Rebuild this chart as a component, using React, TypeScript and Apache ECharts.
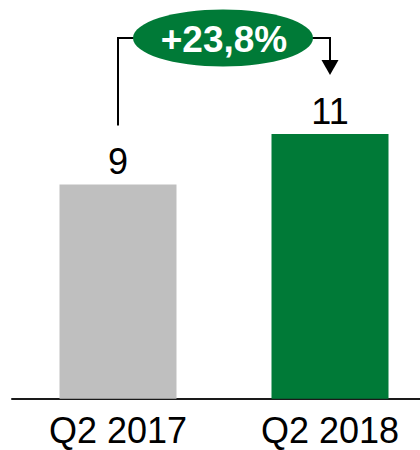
import React, { useEffect, useRef } from "react";
import * as echarts from "echarts";

const categories = ["Q2 2017", "Q2 2018"];
const values = [8.9, 11.0];
const valueLabels = ["9", "11"];
const barColors = ["#BFBFBF", "#007A37"];
const growthLabel = "+23,8%";

const FONT = "'Liberation Sans', Arial, Helvetica, sans-serif";

export default function App() {
  const ref = useRef<HTMLDivElement>(null);
  useEffect(() => {
    if (!ref.current) return;
    const chart = echarts.init(ref.current, null, { renderer: "svg" });
    const option: any = {
      animation: false,
      backgroundColor: "#ffffff",
      grid: { left: 12, right: 0, top: 13.7, bottom: 51.3, containLabel: false },
      xAxis: {
        type: "category",
        data: categories,
        axisLine: { show: true, lineStyle: { color: "#1a1a1a", width: 2 } },
        axisTick: { show: false },
        axisLabel: { color: "#000", fontSize: 36, fontFamily: FONT, margin: 14 },
      },
      yAxis: {
        type: "value",
        min: 0,
        max: 16,
        show: false,
        splitLine: { show: false },
      },
      series: [
        {
          type: "bar",
          barWidth: 117,
          data: values.map((v, i) => ({ value: v, itemStyle: { color: barColors[i] } })),
          label: {
            show: true,
            position: "top",
            distance: 5,
            color: "#000",
            fontSize: 36,
            fontFamily: FONT,
            formatter: (p: any) => valueLabels[p.dataIndex],
          },
        },
      ],
    };
    chart.setOption(option);

    const x0 = chart.convertToPixel({ xAxisIndex: 0 }, categories[0]) as number;
    const x1 = chart.convertToPixel({ xAxisIndex: 0 }, categories[1]) as number;
    const y0 = chart.convertToPixel({ yAxisIndex: 0 }, values[0]) as number;
    const lineY = 38;
    const cx = 223;
    const cy = 38;
    const rx = 90;
    const ry = 28.5;
    const lineStyle = { stroke: "#000", lineWidth: 2, fill: null };
    chart.setOption({
      graphic: [
        {
          type: "polyline",
          shape: { points: [[x0, y0 - 59], [x0, lineY], [cx - rx + 4, lineY]] },
          style: lineStyle,
          z: 10,
        },
        {
          type: "polyline",
          shape: { points: [[cx + rx - 4, lineY], [x1, lineY], [x1, 62]] },
          style: lineStyle,
          z: 10,
        },
        {
          type: "polygon",
          shape: { points: [[x1 - 8.5, 60], [x1 + 8.5, 60], [x1, 75]] },
          style: { fill: "#000" },
          z: 10,
        },
        {
          type: "ellipse",
          shape: { cx, cy, rx, ry },
          style: { fill: "#007A37" },
          z: 11,
        },
        {
          type: "text",
          x: cx + 1,
          y: cy + 1,
          style: {
            text: growthLabel,
            fill: "#fff",
            font: `bold 37px ${FONT}`,
            align: "center",
            verticalAlign: "middle",
          },
          z: 12,
        },
      ],
    });
    return () => chart.dispose();
  }, []);
  return (
    <div
      style={{
        position: "absolute",
        left: 0,
        top: 0,
        width: 420,
        height: 450,
        overflow: "hidden",
      }}
    >
      <div ref={ref} style={{ width: 436, height: 450 }} />
    </div>
  );
}
